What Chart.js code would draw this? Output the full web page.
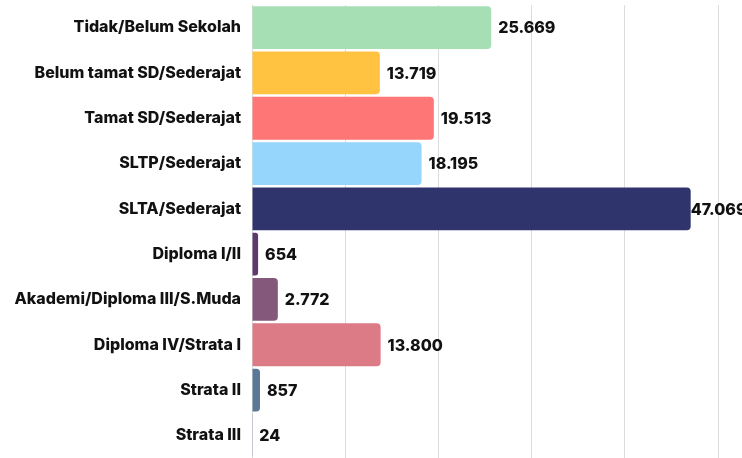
<!DOCTYPE html>
<html>
<head>
<meta charset="utf-8">
<script src="https://cdn.jsdelivr.net/npm/chart.js@4"></script>
<style>
  html, body { margin: 0; padding: 0; background: #fff; }
  #wrap { width: 742px; height: 458px; }
</style>
</head>
<body>
<div id="wrap"><canvas id="chart"></canvas></div>
<script>
// Jumlah penduduk menurut pendidikan

var categories = [
  'Tidak/Belum Sekolah',
  'Belum tamat SD/Sederajat',
  'Tamat SD/Sederajat',
  'SLTP/Sederajat',
  'SLTA/Sederajat',
  'Diploma I/II',
  'Akademi/Diploma III/S.Muda',
  'Diploma IV/Strata I',
  'Strata II',
  'Strata III'
];
var values = [25669, 13719, 19513, 18195, 47069, 654, 2772, 13800, 857, 24];
var barColors = [
  '#a6dfb4', '#ffc241', '#ff7676', '#96d5fc', '#30346c',
  '#5c3a6d', '#83587b', '#dc7a86', '#5b7897', '#8a9bb0'
];

function fmt(v) {
  return v.toString().replace(/\B(?=(\d{3})+(?!\d))/g, '.');
}

// value labels at the end of each bar
var valueLabels = {
  id: 'valueLabels',
  afterDatasetsDraw: function (chart) {
    var c = chart.ctx;
    var meta = chart.getDatasetMeta(0);
    c.save();
    c.font = '800 16px Inter, "Open Sans", sans-serif';
    c.fillStyle = '#111';
    c.textBaseline = 'middle';
    c.textAlign = 'left';
    meta.data.forEach(function (bar, i) {
      var txt = fmt(values[i]);
      var w = c.measureText(txt).width;
      var x = bar.x + 7;
      if (x + w > chart.width) x = bar.x;
      c.fillText(txt, x, bar.y + 1);
    });
    c.restore();
  }
};

new Chart(document.getElementById('chart'), {
  type: 'bar',
  data: {
    labels: categories,
    datasets: [{
      data: values,
      backgroundColor: barColors,
      borderRadius: 4,
      borderSkipped: 'start',
      barPercentage: 0.945,
      categoryPercentage: 1
    }]
  },
  options: {
    indexAxis: 'y',
    responsive: true,
    maintainAspectRatio: false,
    animation: false,
    layout: { padding: { top: 5, right: 24, bottom: -2, left: 0 } },
    scales: {
      x: {
        min: 0,
        max: 50000,
        ticks: { display: false, stepSize: 10000 },
        grid: { color: '#dcdcdc', drawTicks: false },
        border: { display: false },
        afterFit: function (s) { s.height = 0; s.paddingLeft = 0; s.paddingRight = 0; }
      },
      y: {
        ticks: {
          color: '#111',
          padding: 11,
          font: { family: 'Inter, "Open Sans", sans-serif', size: 16, weight: '800' }
        },
        grid: { display: false, drawTicks: false },
        border: { display: false },
        afterFit: function (s) { s.width = 252; s.paddingTop = 0; s.paddingBottom = 0; }
      }
    },
    plugins: {
      legend: { display: false },
      tooltip: { enabled: false }
    }
  },
  plugins: [valueLabels]
});
</script>
</body>
</html>
